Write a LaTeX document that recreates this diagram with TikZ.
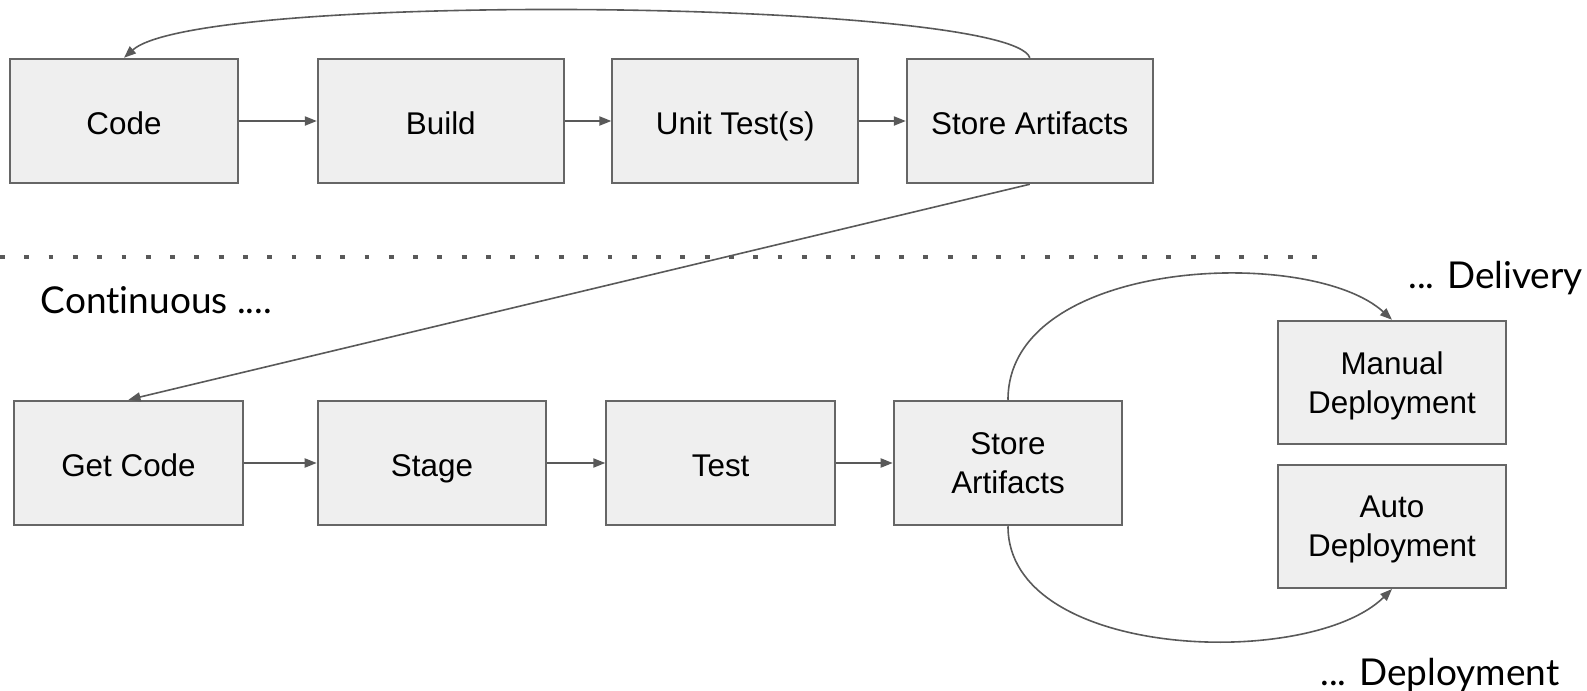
\documentclass[tikz,border=0pt]{standalone}
\usepackage{fontspec}
\setmainfont{Liberation Sans}
\newfontfamily\labelfont[Ligatures=NoCommon]{Lato}
\usetikzlibrary{arrows.meta}
\definecolor{boxfill}{HTML}{EFEFEF}
\definecolor{boxline}{HTML}{666666}
\definecolor{arrowc}{HTML}{595959}
\newcommand{\nodepth}[1]{\raisebox{0pt}[\height][0pt]{#1}}
\begin{document}
\begin{tikzpicture}[x=0.5pt,y=-0.5pt,
  box/.style={draw=boxline,fill=boxfill,line width=1pt,inner sep=0pt,align=center,
    font=\fontsize{15.7}{19.2}\selectfont,text=black},
  oneline/.style={text height=16.3pt,text depth=3pt},
  wtop/.style={minimum width=123pt,minimum height=62.25pt},
  wcode/.style={minimum width=113.85pt,minimum height=62.25pt},
  wbot/.style={minimum width=114.35pt,minimum height=62.25pt},
  wdep/.style={minimum width=114pt,minimum height=61.75pt},
  conn/.style={draw=arrowc,line width=0.8pt,-{Triangle[length=6pt,width=4.6pt]}},
  lbl/.style={font=\labelfont\fontsize{18.5}{22}\selectfont,text=black,inner sep=0pt,anchor=west}]
\useasboundingbox (0,0) rectangle (1587,691);
% top row
\node[box,wcode,oneline] (code) at (124,121) {Code};
\node[box,wtop,oneline] (build) at (440.8,121) {Build};
\node[box,wtop,oneline] (unit) at (735.3,121) {Unit Test(s)};
\node[box,wtop,oneline] (store1) at (1029.8,121) {Store Artifacts};
% bottom row
\node[box,wbot,oneline] (get) at (128.5,463) {Get Code};
\node[box,wbot,oneline] (stage) at (432,463) {Stage};
\node[box,wbot,oneline] (test) at (720.6,463) {Test};
\node[box,wbot] (store2) at (1008,463) {Store\\Artifacts};
\node[box,wdep] (manual) at (1392,382.5) {Manual\\\nodepth{Deployment}};
\node[box,wdep] (auto) at (1392,526.3) {Auto\\\nodepth{Deployment}};
% separator
\coordinate (sepL) at (0,257);
\coordinate (sepR) at (1326,257);
\draw[draw=arrowc,line width=2.4pt,dash pattern=on 2.4pt off 9.75pt] (sepL) -- (sepR);
% labels
\node[lbl] (cont) at (40.5,300) {Continuous ....};
\node[lbl] (deliv) at (1408,278) {... Delivery};
\node[lbl] (deploy) at (1320,675) {... Deployment};
% connectors
\draw[conn] (code) -- (build);
\draw[conn] (build) -- (unit);
\draw[conn] (unit) -- (store1);
\draw[conn] (get) -- (stage);
\draw[conn] (stage) -- (test);
\draw[conn] (test) -- (store2);
\draw[conn] (store1.north) .. controls (1010,0) and (200,-10) .. (code.north);
\draw[conn] (store1.south) -- (get.north);
\draw[conn] (store2.north) .. controls (1008,258) and (1310,245) .. (manual.north);
\draw[conn] (store2.south) .. controls (1008,660) and (1310,670) .. (auto.south);
\end{tikzpicture}
\end{document}
